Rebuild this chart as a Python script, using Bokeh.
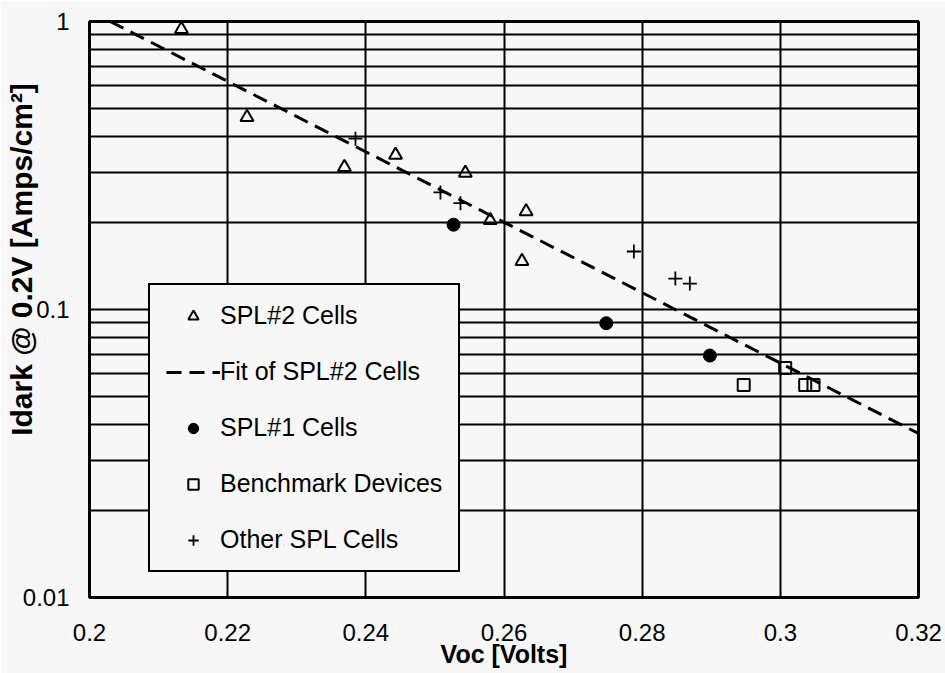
from bokeh.plotting import figure
from bokeh.models import FixedTicker, Legend, LegendItem
from bokeh.embed import file_html
from bokeh.resources import INLINE

# ---- data ----
spl2_voc = [0.2133, 0.2228, 0.2369, 0.2443, 0.2544, 0.2580, 0.2632, 0.2626]
spl2_idark = [0.94, 0.465, 0.312, 0.344, 0.298, 0.204, 0.219, 0.147]

fit_voc = [0.200, 0.320]
fit_idark = [1.088, 0.0371]

spl1_voc = [0.2527, 0.2748, 0.2898]
spl1_idark = [0.197, 0.0896, 0.0692]

bench_voc = [0.2947, 0.3007, 0.3036, 0.3048]
bench_idark = [0.0547, 0.0626, 0.0547, 0.0547]

other_voc = [0.2385, 0.2508, 0.2537, 0.2788, 0.2848, 0.2869]
other_idark = [0.392, 0.255, 0.234, 0.159, 0.128, 0.123]

x_ticks = [0.2, 0.22, 0.24, 0.26, 0.28, 0.3, 0.32]
x_tick_labels = ["0.2", "0.22", "0.24", "0.26", "0.28", "0.3", "0.32"]
y_ticks = [0.01, 0.1, 1.0]
y_tick_labels = ["0.01", "0.1", "1"]
y_minor = [0.02, 0.03, 0.04, 0.05, 0.06, 0.07, 0.08, 0.09,
           0.2, 0.3, 0.4, 0.5, 0.6, 0.7, 0.8, 0.9]

FONT = "Liberation Sans"
BG = "#f7f7f7"

p = figure(width=945, height=673, output_backend="svg", toolbar_location=None,
           x_range=(0.2, 0.32), y_range=(0.01, 1.0), y_axis_type="log",
           min_border_left=89, min_border_top=21, min_border_right=27,
           min_border_bottom=76)
p.background_fill_color = BG
p.border_fill_color = BG
p.outline_line_color = "black"
p.outline_line_width = 3

# axes
p.xaxis.ticker = FixedTicker(ticks=x_ticks)
p.xaxis.major_label_overrides = {t: l for t, l in zip(x_ticks, x_tick_labels)}
p.yaxis.ticker = FixedTicker(ticks=y_ticks, minor_ticks=y_minor)
p.yaxis.major_label_overrides = {t: l for t, l in zip(y_ticks, y_tick_labels)}

for ax in (p.xaxis, p.yaxis):
    ax.axis_line_color = None
    ax.major_tick_line_color = None
    ax.minor_tick_line_color = None
    ax.major_label_text_font = FONT
    ax.major_label_text_font_size = "24px"
    ax.major_label_text_color = "black"
    ax.axis_label_text_font = FONT
    ax.axis_label_text_font_style = "bold"
    ax.axis_label_text_color = "black"

p.xaxis.axis_label = "Voc [Volts]"
p.xaxis.axis_label_text_font_size = "25px"
p.xaxis.major_label_standoff = 20
p.xaxis.axis_label_standoff = -4
p.yaxis.axis_label = "\u00a0" * 12 + "Idark @ 0.2V [Amps/cm²]"
p.yaxis.axis_label_text_font_size = "30px"
p.yaxis.major_label_standoff = 14
p.yaxis.axis_label_standoff = -18

# grids
p.xgrid.ticker = FixedTicker(ticks=x_ticks)
p.xgrid.grid_line_color = "black"
p.xgrid.grid_line_width = 2
p.ygrid.grid_line_color = "black"
p.ygrid.grid_line_width = 2
p.ygrid.minor_grid_line_color = "black"
p.ygrid.minor_grid_line_width = 2

# glyphs
r_spl2 = p.scatter(spl2_voc, spl2_idark, marker="triangle", size=13,
                   fill_color=None, line_color="black", line_width=2)
r_fit = p.line(fit_voc, fit_idark, line_color="black", line_width=3,
               line_dash="15 8")
r_spl1 = p.scatter(spl1_voc, spl1_idark, marker="circle", size=13,
                   fill_color="black", line_color="black")
r_bench = p.scatter(bench_voc, bench_idark, marker="square", size=12,
                    fill_color=None, line_color="black", line_width=2)
r_other = p.scatter(other_voc, other_idark, marker="cross", size=14,
                    line_color="black", line_width=1.8)

legend = Legend(items=[
    LegendItem(label="SPL#2 Cells", renderers=[r_spl2]),
    LegendItem(label="Fit of SPL#2 Cells", renderers=[r_fit]),
    LegendItem(label="SPL#1 Cells", renderers=[r_spl1]),
    LegendItem(label="Benchmark Devices", renderers=[r_bench]),
    LegendItem(label="Other SPL Cells", renderers=[r_other]),
], location=(59, 25))
legend.margin = 0
legend.padding = 16
legend.spacing = 27
legend.glyph_width = 54
legend.glyph_height = 26
legend.label_standoff = 0
legend.label_text_font = FONT
legend.label_text_font_size = "25px"
legend.label_text_color = "black"
legend.background_fill_color = BG
legend.background_fill_alpha = 1.0
legend.border_line_color = "black"
legend.border_line_alpha = 1.0
legend.border_line_width = 2.5
p.add_layout(legend, "center")

open("out.html", "w").write(file_html(p, INLINE))
